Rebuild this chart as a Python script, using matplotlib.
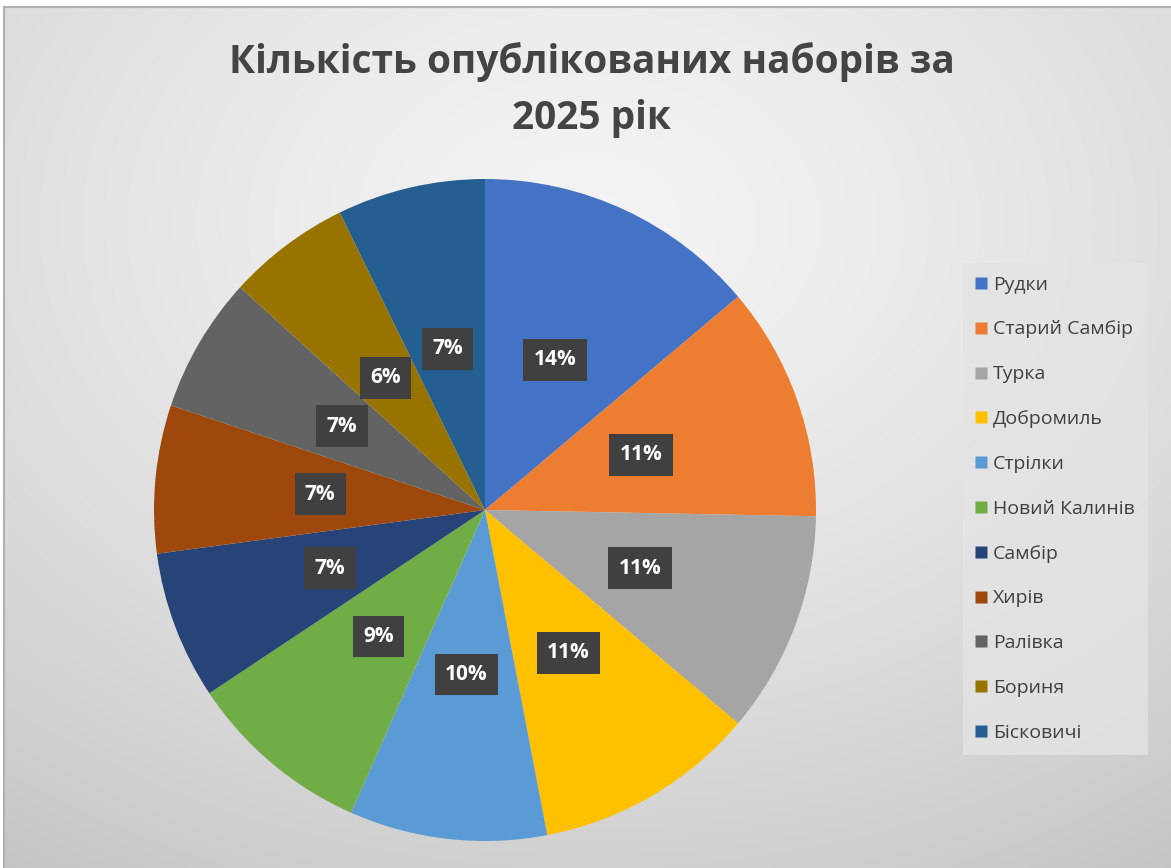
import matplotlib
matplotlib.use("Agg")
import matplotlib.pyplot as plt
import numpy as np
from matplotlib.lines import Line2D

# DATA
TITLE = "Кількість опублікованих наборів за\n2025 рік"

CATEGORIES = [
    "Рудки",
    "Старий Самбір",
    "Турка",
    "Добромиль",
    "Стрілки",
    "Новий Калинів",
    "Самбір",
    "Хирів",
    "Ралівка",
    "Бориня",
    "Бісковичі",
]

COUNTS = [23, 19, 18, 18, 16, 15, 12, 12, 11, 10, 12]

COLORS = [
    "#4472C4",
    "#ED7D31",
    "#A5A5A5",
    "#FFC000",
    "#5B9BD5",
    "#70AD47",
    "#264478",
    "#9E480E",
    "#636363",
    "#997300",
    "#255E91",
]

FONT = ["Open Sans", "DejaVu Sans"]

W, H = 1171, 868


def draw_background(fig):
    # radial grey gradient like the Excel chart area
    bg = fig.add_axes([4 / W, 0, 1 - 4 / W, 1 - 7 / H], zorder=-10)
    ny, nx = 400, 540
    yy, xx = np.mgrid[0:ny, 0:nx]
    cx, cy = nx * 0.5, ny * 0.25
    dist = np.sqrt(((xx - cx) / nx) ** 2 + ((yy - cy) / ny) ** 2)
    dist = dist / dist.max()
    shade = 0.955 - 0.18 * dist ** 1.4
    img = np.dstack([shade, shade, shade])
    bg.imshow(img, aspect="auto", extent=[0, 1, 0, 1], origin="upper")
    bg.set_xlim(0, 1)
    bg.set_ylim(0, 1)
    for side in ["left", "top"]:
        bg.spines[side].set_color("#b0b0b0")
        bg.spines[side].set_linewidth(1.5)
    for side in ["right", "bottom"]:
        bg.spines[side].set_visible(False)
    bg.set_xticks([])
    bg.set_yticks([])


def main():
    fig = plt.figure(figsize=(W / 100, H / 100), dpi=100)
    fig.patch.set_facecolor("white")

    draw_background(fig)

    cx, cy, r = 485, 510, 331
    ax = fig.add_axes([(cx - r) / W, (H - cy - r) / H, 2 * r / W, 2 * r / H])
    ax.set_facecolor("none")

    wedges, texts, autotexts = ax.pie(
        COUNTS,
        colors=COLORS,
        startangle=90,
        counterclock=False,
        radius=1.0,
        autopct=lambda p: f"{p:.0f}%",
        pctdistance=0.5,
        wedgeprops={"linewidth": 0},
    )
    ax.set_xlim(-1, 1)
    ax.set_ylim(-1, 1)
    ax.set_aspect("auto")

    for t in autotexts:
        t.set_color("white")
        t.set_fontsize(15)
        t.set_fontweight("bold")
        t.set_family(FONT)
        t.set_bbox(
            {
                "boxstyle": "square,pad=0.5",
                "facecolor": "#404040",
                "edgecolor": "none",
            }
        )

    fig.text(
        0.5 * (228 + 955) / W,
        1 - 90 / H,
        TITLE,
        ha="center",
        va="center",
        fontsize=28,
        fontweight="bold",
        color="#444444",
        family=FONT,
        linespacing=1.6,
    )

    handles = [
        Line2D(
            [0], [0],
            marker="s",
            linestyle="none",
            markersize=9,
            markerfacecolor=c,
            markeredgecolor="none",
        )
        for c in COLORS
    ]

    legend = fig.legend(
        handles,
        CATEGORIES,
        loc="upper left",
        bbox_to_anchor=(963 / W, 1 - 263 / H),
        frameon=True,
        fancybox=False,
        prop={"family": FONT, "size": 14},
        labelspacing=1.38,
        handlelength=0.6,
        handletextpad=0.3,
        borderpad=0.65,
        borderaxespad=0,
    )
    frame = legend.get_frame()
    frame.set_facecolor("#e4e4e4")
    frame.set_alpha(0.8)
    frame.set_edgecolor("none")
    for text in legend.get_texts():
        text.set_color("#404040")

    fig.savefig("out.png", dpi=100)


if __name__ == "__main__":
    main()
